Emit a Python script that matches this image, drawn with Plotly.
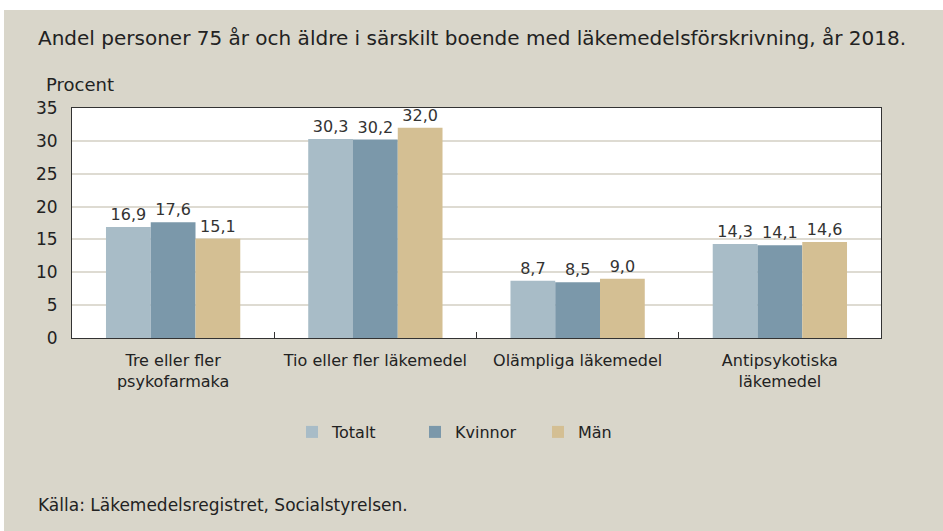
import plotly.graph_objects as go

categories = ["Tre eller fler<br>psykofarmaka", "Tio eller fler läkemedel",
              "Olämpliga läkemedel", "Antipsykotiska<br>läkemedel"]
totalt = [16.9, 30.3, 8.7, 14.3]
kvinnor = [17.6, 30.2, 8.5, 14.1]
man = [15.1, 32.0, 9.0, 14.6]
series_names = ["Totalt", "Kvinnor", "Män"]
colors = ["#a8bcc7", "#7b98aa", "#d4bf93"]

FONT = "Century Gothic, DejaVu Sans, sans-serif"
W, H = 943, 531
L, R, T, B = 72, 62, 108, 193
pw = W - L - R
ph = H - T - B

fig = go.Figure()
for name, vals, col in zip(series_names, [totalt, kvinnor, man], colors):
    fig.add_trace(go.Bar(x=categories, y=vals, name=name, marker_color=col,
                         marker_line_width=0,
                         texttemplate="%{y:.1f}", textposition="outside",
                         textfont=dict(size=16, color="#333333"),
                         cliponaxis=False))

fig.update_layout(
    width=W, height=H,
    margin=dict(l=L, r=R, t=T, b=B),
    paper_bgcolor="#d9d6ca", plot_bgcolor="white",
    font=dict(family=FONT, color="#222222"),
    separators=", ",
    barmode="group", bargap=0.336, bargroupgap=0,
    showlegend=True,
    legend=dict(orientation="h", x=(292 - L) / pw, xanchor="left",
                y=-(432 - T - ph) / ph, yanchor="middle",
                font=dict(size=16), entrywidth=78, bgcolor="rgba(0,0,0,0)",
                itemclick=False),
    xaxis=dict(showline=True, linecolor="#333333", linewidth=1, mirror=True,
               ticks="inside", tickson="boundaries", ticklen=6, tickcolor="#333333",
               tickangle=0, tickfont=dict(size=16, color="#222222"), ticklabelstandoff=8),
    yaxis=dict(range=[0, 35], dtick=5, showline=True, linecolor="#333333", linewidth=1,
               mirror=True, gridcolor="#dedbd2", gridwidth=2, zeroline=False,
               ticks="", tickfont=dict(size=17, color="#222222"), ticklabelstandoff=10),
)

# white frame strips at the top and left edge of the image
fig.add_shape(type="rect", xref="paper", yref="paper", layer="below",
              x0=-L / pw, x1=1 + R / pw, y0=1 + (T - 10) / ph, y1=1 + T / ph,
              fillcolor="white", line_width=0)
fig.add_shape(type="rect", xref="paper", yref="paper", layer="below",
              x0=-L / pw, x1=-(L - 4) / pw, y0=-B / ph, y1=1 + T / ph,
              fillcolor="white", line_width=0)

fig.add_annotation(text="Andel personer 75 år och äldre i särskilt boende med läkemedelsförskrivning, år 2018.",
                   xref="paper", yref="paper", x=-(L - 36) / pw, y=1 + (T - 38) / ph,
                   xanchor="left", yanchor="middle", showarrow=False,
                   font=dict(size=20, color="#222222"))
fig.add_annotation(text="Procent", xref="paper", yref="paper",
                   x=-(L - 44) / pw, y=1 + (T - 85) / ph,
                   xanchor="left", yanchor="middle", showarrow=False,
                   font=dict(size=18, color="#222222"))
fig.add_annotation(text="Källa: Läkemedelsregistret, Socialstyrelsen.", xref="paper", yref="paper",
                   x=-(L - 36) / pw, y=-(505 - T - ph) / ph,
                   xanchor="left", yanchor="middle", showarrow=False,
                   font=dict(size=17, color="#222222"))

fig.write_html("out.html", config={"displayModeBar": False},
               post_script="document.body.style.margin='0';")
